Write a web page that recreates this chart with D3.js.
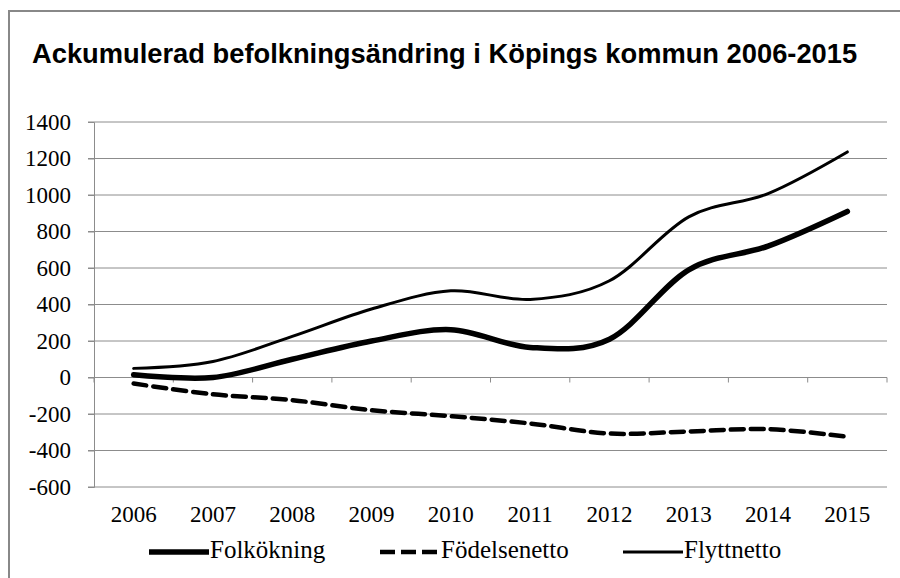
<!DOCTYPE html>
<html>
<head>
<meta charset="utf-8">
<script src="https://cdn.jsdelivr.net/npm/d3@7"></script>
<style>
  body { margin: 0; background: #fff; }
  svg { display: block; }
</style>
</head>
<body>
<svg width="900" height="578"></svg>
<script>
var years = ["2006", "2007", "2008", "2009", "2010", "2011", "2012", "2013", "2014", "2015"];
var folkokning = [15, 0, 100, 200, 262, 165, 210, 590, 720, 910];
var fodelsenetto = [-33, -92, -124, -179, -212, -252, -307, -296, -283, -325];
var flyttnetto = [50, 88, 225, 375, 475, 428, 530, 880, 1008, 1236];
var yTicks = [-600, -400, -200, 0, 200, 400, 600, 800, 1000, 1200, 1400];

var svg = d3.select("svg");
var serif = "'Liberation Serif', 'Times New Roman', serif";

// frame
svg.append("rect")
    .attr("x", 9).attr("y", 11)
    .attr("width", 900).attr("height", 600)
    .style("fill", "none")
    .style("stroke", "#888")
    .style("stroke-width", 2);

svg.append("text")
    .attr("x", 32).attr("y", 63)
    .style("font-family", "'Liberation Sans', Arial, sans-serif")
    .style("font-weight", "bold")
    .style("font-size", "27.3px")
    .text("Ackumulerad befolkningsändring i Köpings kommun 2006-2015");

var plotLeft = 94, plotRight = 887, plotTop = 122, plotBottom = 487;

var x = d3.scaleBand().domain(years).range([plotLeft, plotRight]);
var y = d3.scaleLinear().domain([-600, 1400]).range([plotBottom, plotTop]);

var grid = svg.append("g");
grid.selectAll("line")
    .data(yTicks).enter()
    .append("line")
    .attr("x1", plotLeft - 6).attr("x2", plotRight)
    .attr("y1", function(d) { return y(d); })
    .attr("y2", function(d) { return y(d); })
    .style("stroke", "#8c8c8c")
    .style("stroke-width", 1);

// y axis (plain hyphen for negatives, like the original)
var yAxis = svg.append("g")
    .attr("transform", "translate(" + plotLeft + ",0)")
    .call(d3.axisLeft(y).tickValues(yTicks)
        .tickFormat(function(d) { return String(d); })
        .tickSize(6).tickPadding(17));
yAxis.select(".domain").style("stroke", "#8c8c8c");
yAxis.selectAll(".tick line").style("stroke", "#8c8c8c");
yAxis.selectAll("text")
    .style("font-family", serif)
    .style("font-size", "23px")
    .style("fill", "#000");

// category boundaries on the zero line
var bounds = years.map(function(d) { return x(d); }).concat([plotRight]);
svg.append("g").selectAll("line")
    .data(bounds).enter()
    .append("line")
    .attr("x1", function(d) { return d; })
    .attr("x2", function(d) { return d; })
    .attr("y1", y(0)).attr("y2", y(0) + 5)
    .style("stroke", "#8c8c8c");

svg.append("g").selectAll("text")
    .data(years).enter()
    .append("text")
    .attr("x", function(d) { return x(d) + x.bandwidth() / 2; })
    .attr("y", 522)
    .attr("text-anchor", "middle")
    .style("font-family", serif)
    .style("font-size", "23px")
    .text(function(d) { return d; });

var line = d3.line()
    .x(function(d, i) { return x(years[i]) + x.bandwidth() / 2; })
    .y(function(d) { return y(d); })
    .curve(d3.curveCardinal.tension(0));

var series = [
    { name: "Folkökning", values: folkokning, width: 5.5, dash: null },
    { name: "Födelsenetto", values: fodelsenetto, width: 4.5, dash: "13,7" },
    { name: "Flyttnetto", values: flyttnetto, width: 3, dash: null }
];

svg.append("g").selectAll("path")
    .data(series).enter()
    .append("path")
    .attr("d", function(d) { return line(d.values); })
    .style("fill", "none")
    .style("stroke", "#000")
    .style("stroke-width", function(d) { return d.width; })
    .style("stroke-dasharray", function(d) { return d.dash; })
    .style("stroke-linecap", "round");

// legend
var legendX = [149, 380, 623];
var legend = svg.append("g").selectAll("g")
    .data(series).enter()
    .append("g")
    .attr("transform", function(d, i) { return "translate(" + legendX[i] + ",552)"; });

legend.append("line")
    .attr("x1", 0).attr("x2", 60)
    .style("stroke", "#000")
    .style("stroke-width", function(d) { return d.width; })
    .style("stroke-dasharray", function(d) { return d.dash ? "15,6" : null; });

legend.append("text")
    .attr("x", 61).attr("y", 6)
    .style("font-family", serif)
    .style("font-size", "25px")
    .text(function(d) { return d.name; });
</script>
</body>
</html>
